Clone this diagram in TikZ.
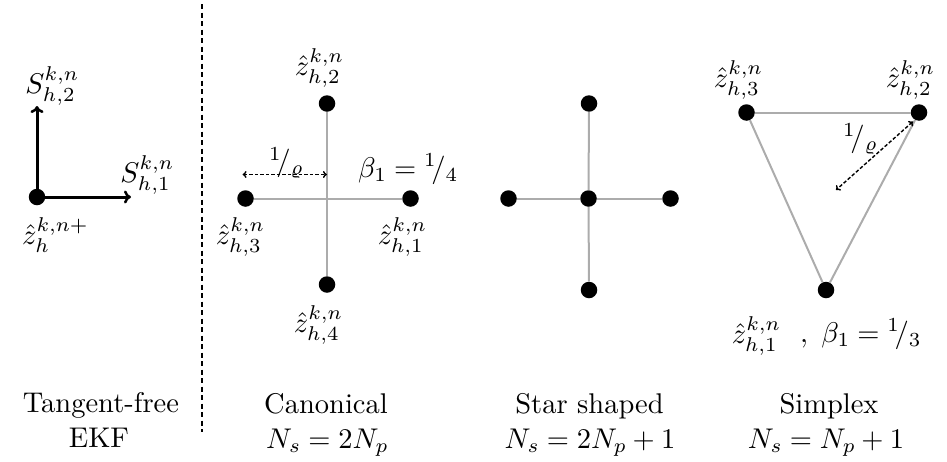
\documentclass[tikz,border=0pt]{standalone}
\usepackage{fix-cm}
\usepackage{amsmath}
\usetikzlibrary{arrows.meta}
\DeclareFontShape{OML}{cmm}{m}{it}{<-16> cmmi5 <16-24> cmmi7 <24-> cmmi10}{}
\DeclareFontShape{OT1}{cmr}{m}{n}{<-16> cmr5 <16-24> cmr7 <24-> cmr10}{}
\DeclareFontShape{OMS}{cmsy}{m}{n}{<-16> cmsy5 <16-24> cmsy7 <24-> cmsy10}{}
\DeclareMathSizes{28.5}{28.5}{19.95}{14.25}
\font\bigrm="[lmroman10-regular.otf]" at 28.5pt
\begin{document}
\begin{tikzpicture}[x=1pt,y=-1pt,
  every node/.style={font=\fontsize{28.5}{34}\selectfont},
  txt/.style={inner sep=0pt,font=\bigrm},
  dot/.style={circle,fill=black,inner sep=0pt,minimum size=16.5pt},
  lbl/.style={inner sep=0pt},
  grayline/.style={draw={rgb,255:red,172;green,172;blue,172},line width=2pt},
  bigarrow/.style={line width=3pt,-{To[length=7pt,width=13pt,line width=2.5pt]}},
  dasharrow/.style={line width=1.4pt,dash pattern=on 3.5pt off 2pt,{To[length=4pt,width=7pt]}-{To[length=4pt,width=7pt]}},
  sep/.style={line width=1.6pt,dash pattern=on 5pt off 3.5pt}]
\useasboundingbox (0,0) rectangle (947,461);

% ---------- Tangent-free EKF ----------
\node[dot] (t0) at (37,197) {};
\coordinate (tup) at (37,106);
\coordinate (trt) at (131,197);
\draw[bigarrow] (t0.center) -- (tup);
\draw[bigarrow] (t0.center) -- (trt);
\node[lbl] (ls2) at (52,86) {$S_{h,2}^{k,n}$};
\node[lbl] (ls1) at (147,175) {$S_{h,1}^{k,n}$};
\node[lbl] (lz0) at (55,235) {$\hat{z}_{h}^{k,n+}$};
\node[txt,anchor=base] (ttf) at (101,412) {Tangent-free};
\node[txt,anchor=base] (tekf) at (99,447) {EKF};

% separator
\coordinate (sepa) at (202,4);
\coordinate (sepb) at (202,432);
\draw[sep] (sepa) -- (sepb);

% ---------- Canonical ----------
\node[dot] (c1) at (410.5,198.5) {};
\node[dot] (c2) at (327,103.5) {};
\node[dot] (c3) at (245.5,198.5) {};
\node[dot] (c4) at (327,284.5) {};
\draw[grayline] (c2) -- (c4);
\draw[grayline] (c3) -- (c1);
\coordinate (ca) at (242.5,174.5);
\coordinate (cb) at (327,174.5);
\draw[dasharrow] (ca) -- (cb);
\node[lbl] (lcr) at (286,163) {${}^{1}\!/_{\varrho}$};
\node[lbl,anchor=base west] (lcb) at (358,177) {$\beta_1={}^{1}\!/_{4}$};
\node[lbl] (lc2) at (319,68) {$\hat{z}_{h,2}^{k,n}$};
\node[lbl] (lc3) at (240,237) {$\hat{z}_{h,3}^{k,n}$};
\node[lbl] (lc1) at (402,237) {$\hat{z}_{h,1}^{k,n}$};
\node[lbl] (lc4) at (318,325) {$\hat{z}_{h,4}^{k,n}$};
\node[txt,anchor=base] (tcan) at (326,413) {Canonical};
\node[lbl,anchor=base] (ncan) at (327,448) {$N_s=2N_p$};

% ---------- Star shaped ----------
\node[dot] (s0) at (588.5,198.5) {};
\node[dot] (s1) at (670.5,198.5) {};
\node[dot] (s2) at (589,103.5) {};
\node[dot] (s3) at (508.5,198.5) {};
\node[dot] (s4) at (589,290) {};
\draw[grayline] (s0) -- (s1);
\draw[grayline] (s0) -- (s2);
\draw[grayline] (s0) -- (s3);
\draw[grayline] (s0) -- (s4);
\node[txt,anchor=base] (tstar) at (589.5,413) {Star shaped};
\node[lbl,anchor=base] (nstar) at (590,448) {$N_s=2N_p+1$};

% ---------- Simplex ----------
\node[dot] (x3) at (746.5,112.5) {};
\node[dot] (x2) at (919,112.5) {};
\node[dot] (x1) at (826,290) {};
\draw[grayline] (x3) -- (x2);
\draw[grayline] (x2) -- (x1);
\draw[grayline] (x1) -- (x3);
\coordinate (xa) at (913,121.5);
\coordinate (xb) at (836,190);
\draw[dasharrow] (xa) -- (xb);
\node[lbl] (lxr) at (860,139) {${}^{1}\!/_{\varrho}$};
\node[lbl] (lx3) at (738,80) {$\hat{z}_{h,3}^{k,n}$};
\node[lbl] (lx2) at (910,80) {$\hat{z}_{h,2}^{k,n}$};
\node[lbl] (lx1) at (756,336) {$\hat{z}_{h,1}^{k,n}$};
\node[lbl,anchor=base west] (lxb) at (800,342) {$,\ \beta_1={}^{1}\!/_{3}$};
\node[txt,anchor=base] (tsim) at (829,413) {Simplex};
\node[lbl,anchor=base] (nsim) at (826,448) {$N_s=N_p+1$};
\end{tikzpicture}
\end{document}
